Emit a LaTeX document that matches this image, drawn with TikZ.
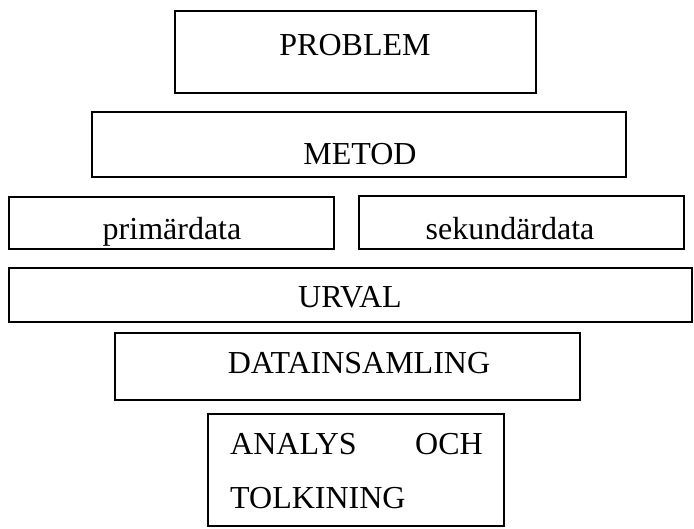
\documentclass[tikz,border=0pt]{standalone}
\usepackage{fontspec}
\setmainfont{Liberation Serif}
\begin{document}
\begin{tikzpicture}[x=1pt,y=-1pt,
  box/.style={draw=black,line width=1.3pt,fill=none,inner sep=0pt,outer sep=0pt,anchor=north west},
  label/.style={inner sep=0pt,anchor=base,font=\fontsize{32}{38}\selectfont},
  lbl/.style={inner sep=0pt,anchor=base west,font=\fontsize{32}{38}\selectfont}]
\useasboundingbox (0,0) rectangle (694,528);
% frames
\node[box,minimum width=361pt,minimum height=82pt] (problem) at (175,11) {};
\node[box,minimum width=534pt,minimum height=65pt] (metod) at (92,112) {};
\node[box,minimum width=325pt,minimum height=52pt] (primar) at (9,197) {};
\node[box,minimum width=325pt,minimum height=53pt] (sekundar) at (359,196) {};
\node[box,minimum width=683pt,minimum height=54pt] (urval) at (9,268) {};
\node[box,minimum width=465pt,minimum height=67pt] (datains) at (115,333) {};
\node[box,minimum width=296pt,minimum height=112pt] (analys) at (208,414) {};
% texts
\node[label] (tproblem) at (355,55) {PROBLEM};
\node[label] (tmetod) at (360,164) {METOD};
\node[label] (tprimar) at (172,239) {primärdata};
\node[label] (tsekundar) at (510,239) {sekundärdata};
\node[label] (turval) at (350,307) {URVAL};
\node[label] (tdatains) at (359,373) {DATAINSAMLING};
\node[lbl] (tanalys) at (230,454) {ANALYS};
\node[label,anchor=base east] (toch) at (483,454) {OCH};
\node[lbl] (ttolk) at (230,508) {TOLKINING};
\end{tikzpicture}
\end{document}
